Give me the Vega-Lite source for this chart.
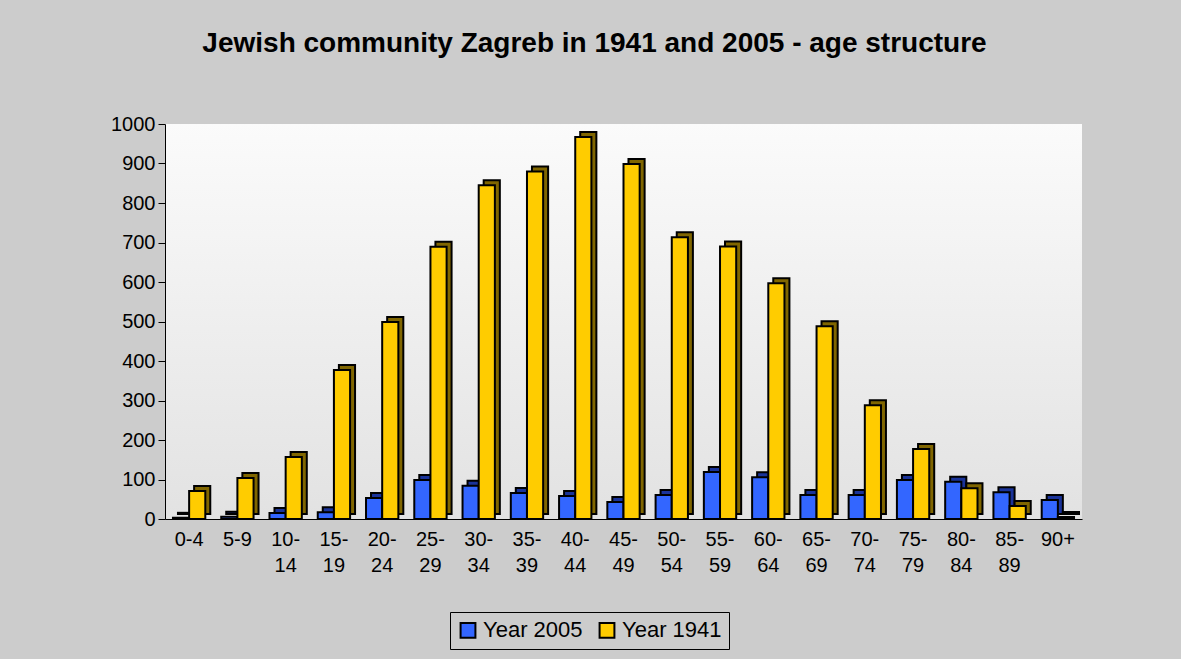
{
  "$schema": "https://vega.github.io/schema/vega-lite/v6.json",
  "autosize": {"type": "none"},
  "padding": {"left": 165, "top": 124, "right": 99, "bottom": 140},
  "width": 917,
  "height": 395,
  "background": "#cccccc",
  "title": {
    "text": "Jewish community Zagreb in 1941 and 2005 - age structure",
    "font": "Liberation Sans",
    "fontSize": 28,
    "fontWeight": "bold",
    "color": "#000000",
    "anchor": "middle",
    "dx": -29,
    "offset": 56
  },
  "config": {
    "view": {
      "fill": {"gradient": "linear", "x1": 0, "y1": 0, "x2": 0, "y2": 1, "stops": [{"offset": 0, "color": "#fbfbfb"}, {"offset": 1, "color": "#e2e2e2"}]},
      "stroke": null
    },
    "font": "Liberation Sans"
  },
  "data": {
    "values": [
      {"age": "0-4", "series": "Year 2005", "value": 3},
      {"age": "0-4", "series": "Year 1941", "value": 71},
      {"age": "5-9", "series": "Year 2005", "value": 6},
      {"age": "5-9", "series": "Year 1941", "value": 104},
      {"age": "10-14", "series": "Year 2005", "value": 15},
      {"age": "10-14", "series": "Year 1941", "value": 157},
      {"age": "15-19", "series": "Year 2005", "value": 17},
      {"age": "15-19", "series": "Year 1941", "value": 377},
      {"age": "20-24", "series": "Year 2005", "value": 53},
      {"age": "20-24", "series": "Year 1941", "value": 499},
      {"age": "25-29", "series": "Year 2005", "value": 99},
      {"age": "25-29", "series": "Year 1941", "value": 689},
      {"age": "30-34", "series": "Year 2005", "value": 84},
      {"age": "30-34", "series": "Year 1941", "value": 845},
      {"age": "35-39", "series": "Year 2005", "value": 66},
      {"age": "35-39", "series": "Year 1941", "value": 880},
      {"age": "40-44", "series": "Year 2005", "value": 58},
      {"age": "40-44", "series": "Year 1941", "value": 967},
      {"age": "45-49", "series": "Year 2005", "value": 43},
      {"age": "45-49", "series": "Year 1941", "value": 899},
      {"age": "50-54", "series": "Year 2005", "value": 61},
      {"age": "50-54", "series": "Year 1941", "value": 713},
      {"age": "55-59", "series": "Year 2005", "value": 119},
      {"age": "55-59", "series": "Year 1941", "value": 690},
      {"age": "60-64", "series": "Year 2005", "value": 106},
      {"age": "60-64", "series": "Year 1941", "value": 597},
      {"age": "65-69", "series": "Year 2005", "value": 61},
      {"age": "65-69", "series": "Year 1941", "value": 488},
      {"age": "70-74", "series": "Year 2005", "value": 61},
      {"age": "70-74", "series": "Year 1941", "value": 288},
      {"age": "75-79", "series": "Year 2005", "value": 99},
      {"age": "75-79", "series": "Year 1941", "value": 177},
      {"age": "80-84", "series": "Year 2005", "value": 94},
      {"age": "80-84", "series": "Year 1941", "value": 78},
      {"age": "85-89", "series": "Year 2005", "value": 68},
      {"age": "85-89", "series": "Year 1941", "value": 33},
      {"age": "90+", "series": "Year 2005", "value": 48},
      {"age": "90+", "series": "Year 1941", "value": 5}
    ]
  },
  "encoding": {
    "x": {
      "field": "age",
      "type": "nominal",
      "sort": null,
      "scale": {"paddingInner": 0.33, "paddingOuter": 0.165},
      "axis": {
        "title": null,
        "labelAngle": 0,
        "labelFontSize": 20,
        "labelColor": "#000000",
        "labelPadding": 10,
        "labelLineHeight": 26,
        "labelBaseline": "top",
        "ticks": false,
        "domain": true,
        "domainColor": "#000000",
        "labelExpr": "length(datum.label) > 4 ? [slice(datum.label, 0, 3), slice(datum.label, 3)] : datum.label"
      }
    }
  },
  "layer": [
    {
      "mark": {"type": "bar", "stroke": "#000000", "strokeWidth": 2},
      "encoding": {
        "xOffset": {"field": "series", "type": "nominal", "sort": ["Year 2005", "Year 1941"], "scale": {"range": [5, 37.3]}},
        "y": {
          "field": "value",
          "type": "quantitative",
          "scale": {"domain": [0, 1000], "nice": false, "range": [390, -5]},
          "axis": null
        },
        "fill": {
          "condition": {"test": "datum.series === 'Year 2005'", "value": "#1a3399"},
          "value": "#806600"
        }
      }
    },
    {
      "mark": {"type": "bar", "stroke": "#000000", "strokeWidth": 2},
      "encoding": {
        "xOffset": {"field": "series", "type": "nominal", "sort": ["Year 2005", "Year 1941"]},
        "y": {
          "field": "value",
          "type": "quantitative",
          "scale": {"domain": [0, 1000], "nice": false},
          "axis": {
            "title": null,
            "values": [0, 100, 200, 300, 400, 500, 600, 700, 800, 900, 1000],
            "format": "d",
            "labelFontSize": 20,
            "labelColor": "#000000",
            "tickColor": "#000000",
            "tickSize": 7,
            "labelPadding": 3,
            "domainColor": "#000000",
            "gridColor": "#000000",
            "gridOpacity": 0.85,
            "gridWidth": 1
          }
        },
        "color": {
          "field": "series",
          "type": "nominal",
          "sort": ["Year 2005", "Year 1941"],
          "scale": {"domain": ["Year 2005", "Year 1941"], "range": ["#3366ff", "#ffcc00"]},
          "legend": {
            "title": null,
            "orient": "none",
            "direction": "horizontal",
            "legendX": 285,
            "legendY": 488,
            "labelFontSize": 22,
            "labelColor": "#000000",
            "symbolType": "square",
            "symbolSize": 220,
            "symbolStrokeColor": "#000000",
            "symbolStrokeWidth": 2,
            "symbolOpacity": 1,
            "columnPadding": 12,
            "labelOffset": 4,
            "padding": 7,
            "strokeColor": "#000000",
            "fillColor": "#cccccc"
          }
        }
      }
    }
  ],
  "resolve": {"scale": {"y": "independent", "xOffset": "independent"}}
}
